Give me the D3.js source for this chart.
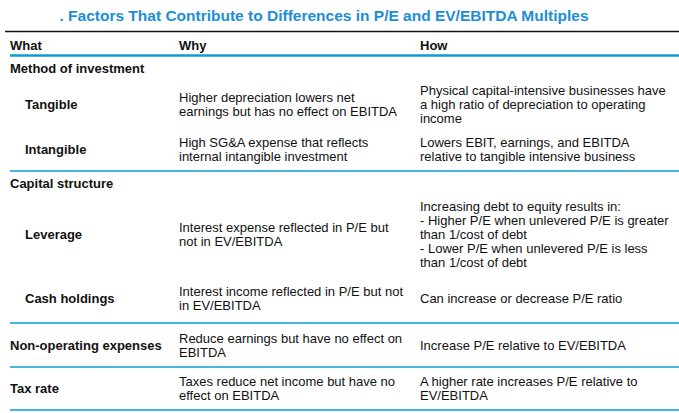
<!DOCTYPE html>
<html>
<head>
<meta charset="utf-8">
<script src="https://cdn.jsdelivr.net/npm/d3@7"></script>
<style>
  body { margin: 0; background: #fff; }
  svg { display: block; font-family: "Liberation Sans", Arial, sans-serif; }
</style>
</head>
<body>
<div id="chart"></div>
<script>
// Table content
const title = ". Factors That Contribute to Differences in P/E and EV/EBITDA Multiples";
const columns = ["What", "Why", "How"];
const sections = ["Method of investment", "Capital structure", null, null];
const factors = [
    ["Tangible", "Intangible"],
    ["Leverage", "Cash holdings"],
    ["Non-operating expenses"],
    ["Tax rate"]
];
const whyText = [
    [["Higher depreciation lowers net", "earnings but has no effect on EBITDA"],
     ["High SG&A expense that reflects", "internal intangible investment"]],
    [["Interest expense reflected in P/E but", "not in EV/EBITDA"],
     ["Interest income reflected in P/E but not", "in EV/EBITDA"]],
    [["Reduce earnings but have no effect on", "EBITDA"]],
    [["Taxes reduce net income but have no", "effect on EBITDA"]]
];
const howText = [
    [["Physical capital-intensive businesses have", "a high ratio of depreciation to operating", "income"],
     ["Lowers EBIT, earnings, and EBITDA", "relative to tangible intensive business"]],
    [["Increasing debt to equity results in:", "- Higher P/E when unlevered P/E is greater", "than 1/cost of debt",
      "- Lower P/E when unlevered P/E is less", "than 1/cost of debt"],
     ["Can increase or decrease P/E ratio"]],
    [["Increase P/E relative to EV/EBITDA"]],
    [["A higher rate increases P/E relative to", "EV/EBITDA"]]
];

// Layout
const width = 679, height = 413;
const blue = "#0a9bd9";
const fontSize = 13;
const lineStep = 14;
const headerTop = 32, headerBottom = 56;
const sectionHeight = [25, 24];
const rowHeight = [[46, 44], [78, 50], [44], [43]];

const x = d3.scaleOrdinal().domain(columns).range([10, 179, 420]);
const indent = 15;

const svg = d3.select("#chart").append("svg")
    .attr("width", width)
    .attr("height", height);

svg.append("text")
    .attr("x", 324)
    .attr("y", 21)
    .attr("text-anchor", "middle")
    .attr("font-size", 15.5)
    .attr("font-weight", "bold")
    .attr("fill", "#1c8ed6")
    .text(title);

svg.append("line")
    .attr("x1", 5).attr("x2", width)
    .attr("y1", headerTop - 0.5).attr("y2", headerTop - 0.5)
    .attr("stroke", "#111").attr("stroke-width", 1.6);

svg.selectAll("text.col")
    .data(columns)
    .join("text")
    .attr("class", "col")
    .attr("x", d => x(d))
    .attr("y", 50)
    .attr("font-size", fontSize)
    .attr("font-weight", "bold")
    .attr("fill", "#111")
    .text(d => d);

svg.append("line")
    .attr("x1", 10).attr("x2", width)
    .attr("y1", headerBottom - 0.5).attr("y2", headerBottom - 0.5)
    .attr("stroke", blue).attr("stroke-width", 2.6);

// Draw a cell of wrapped lines, centred vertically on cy
function cell(g, lines, x0, cy, bold) {
    const n = lines.length;
    g.append("text")
        .attr("font-size", fontSize)
        .attr("font-weight", bold ? "bold" : "normal")
        .attr("fill", "#111")
        .selectAll("tspan")
        .data(lines)
        .join("tspan")
        .attr("x", x0)
        .attr("y", (d, i) => cy + 4.5 + (i - (n - 1) / 2) * lineStep)
        .text(d => d);
}

let y = headerBottom;
sections.forEach((section, s) => {
    const g = svg.append("g");
    if (section) {
        cell(g, [section], x("What"), y + sectionHeight[s] / 2, true);
        y += sectionHeight[s];
    }
    factors[s].forEach((name, r) => {
        const h = rowHeight[s][r];
        const cy = y + h / 2;
        cell(g, [name], x("What") + (section ? indent : 0), cy, true);
        cell(g, whyText[s][r], x("Why"), cy, false);
        cell(g, howText[s][r], x("How"), cy, false);
        y += h;
    });
    g.append("line")
        .attr("x1", 10).attr("x2", width)
        .attr("y1", y).attr("y2", y)
        .attr("stroke", blue).attr("stroke-width", 1.6);
});
</script>
</body>
</html>
